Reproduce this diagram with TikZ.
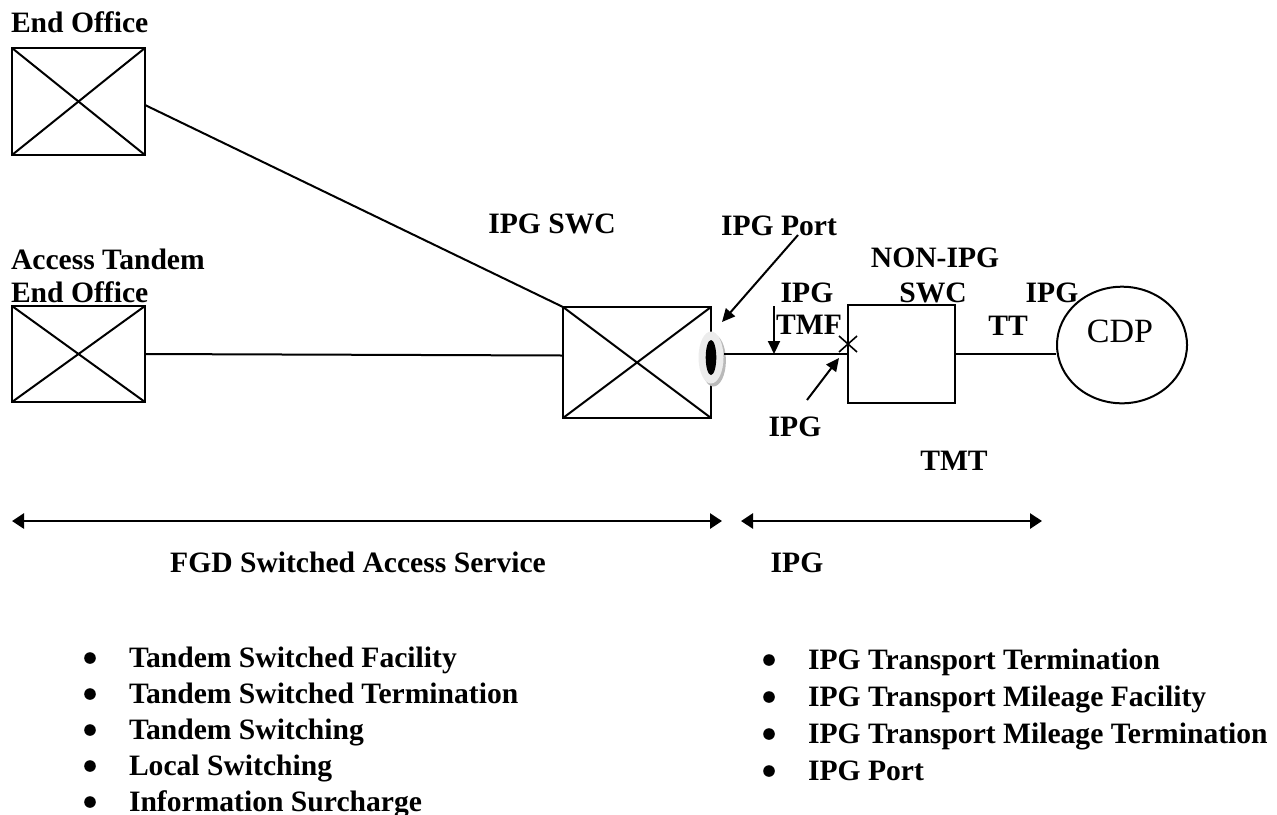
\documentclass[tikz,border=0pt]{standalone}
\usepackage{fontspec}
\setmainfont{Liberation Serif}
\usetikzlibrary{arrows.meta,shapes.geometric,shadows,calc}
\begin{document}
\begin{tikzpicture}[x=0.5pt,y=-0.5pt,
  lbl/.style={font=\bfseries\fontsize{14.8}{17}\selectfont, inner sep=0pt, outer sep=0pt},
  xbox/.style={draw, line width=1pt, inner sep=0pt, outer sep=0pt,
    path picture={\draw[line width=1pt] (path picture bounding box.north west) -- (path picture bounding box.south east)
      (path picture bounding box.south west) -- (path picture bounding box.north east);}},
  pbox/.style={draw, line width=1pt, inner sep=0pt, outer sep=0pt},
  conn/.style={line width=1pt},
  ptr/.style={line width=1pt, -{Triangle[width=6pt,length=6.5pt]}},
  span/.style={line width=1.4pt, {Triangle[width=7.5pt,length=6pt]}-{Triangle[width=7.5pt,length=6pt]}},
  bul/.style={circle, fill, inner sep=0pt, minimum size=5.8pt}
]
\useasboundingbox (0,0) rectangle (1277,814);

% switch boxes
\node[xbox, minimum width=66.5pt, minimum height=53.5pt] (eo1) at (78.5,101.5) {};
\node[xbox, minimum width=66.5pt, minimum height=48pt] (eo2) at (78.5,354) {};
\node[xbox, minimum width=74pt, minimum height=55.5pt] (swc) at (637,362.5) {};
\node[pbox, minimum width=53.5pt, minimum height=49pt] (nonipg) at (901.5,354) {};
\node[draw, ellipse, line width=1pt, inner sep=0pt, minimum width=65pt, minimum height=58.3pt] (cdp) at (1122,345) {};
\node[font=\fontsize{17}{20}\selectfont, anchor=base, inner sep=0pt] (cdpt) at (1120,342) {CDP};

% IPG port
\node[ellipse, fill=gray!15, inner sep=0pt, minimum width=12.5pt, minimum height=26pt,
  drop shadow={shadow xshift=1.2pt, shadow yshift=-1.5pt, fill=gray!55, opacity=1}] (port) at (711,357.5) {};
\node[ellipse, fill=black, inner sep=0pt, minimum width=5.3pt, minimum height=17.5pt] (portcore) at (711,357.5) {};

% labels
\node[lbl, anchor=base west] (t1) at (11,32) {End Office};
\node[lbl, anchor=base west] (t2) at (11,269) {Access Tandem};
\node[lbl, anchor=base west] (t3) at (11,302) {End Office};
\node[lbl, anchor=base] (t4) at (552,233) {IPG SWC};
\node[lbl, anchor=base west] (t5) at (721,235) {IPG Port};
\node[lbl, anchor=base] (t6) at (807,302) {IPG};
\node[lbl, anchor=base] (t7) at (809,334) {TMF};
\node[lbl, anchor=base] (t8) at (935,267) {NON-IPG};
\node[lbl, anchor=base] (t9) at (933,302) {SWC};
\node[lbl, anchor=base] (t10) at (1052,302) {IPG};
\node[lbl, anchor=base] (t11) at (1008,335) {TT};
\node[lbl, anchor=base] (t12) at (795,436) {IPG};
\node[lbl, anchor=base] (t13) at (954,470) {TMT};
\node[lbl, anchor=base] (t14) at (358,572) {FGD Switched Access Service};
\node[lbl, anchor=base] (t15) at (797,572) {IPG};

% connectors
\draw[conn] ($(eo1.east)+(0,3.5)$) -- (swc.north west);
\draw[conn] (eo2.east) -- ($(swc.west)+(0,-7)$);
\draw[conn] (nonipg.west) -- (nonipg.west -| port.east);
\draw[conn] (nonipg.east) -- (nonipg.east -| cdp.west);

% X mark
\coordinate (xm) at (848,344);
\draw[line width=0.8pt] ($(xm)+(-9,-8)$) -- ($(xm)+(9,8)$) ($(xm)+(-9,8)$) -- ($(xm)+(9,-8)$);

% pointer arrows
\coordinate (pa) at (798,235);
\coordinate (pb) at (722,322);
\draw[ptr] (pa) -- (pb);
\coordinate (ta) at (774,306);
\coordinate (tb) at (774,354);
\draw[ptr] (ta) -- (tb);
\coordinate (ia) at (807,400);
\coordinate (ib) at (839,358);
\draw[ptr] (ia) -- (ib);

% spans
\coordinate (s1a) at (12,521);
\coordinate (s1b) at (722,521);
\coordinate (s2a) at (741,521);
\coordinate (s2b) at (1042,521);
\draw[span] (s1a) -- (s1b);
\draw[span] (s2a) -- (s2b);

% bullet lists
\foreach \t [count=\i from 0] in {Tandem Switched Facility, Tandem Switched Termination, Tandem Switching, Local Switching, Information Surcharge}{
  \node[lbl, anchor=base west] (l\i) at (129,667+36*\i) {\t};
  \node[bul] (lb\i) at (90,667+36*\i-9) {};
}
\foreach \t [count=\i from 0] in {IPG Transport Termination, IPG Transport Mileage Facility, IPG Transport Mileage Termination, IPG Port}{
  \node[lbl, anchor=base west] (r\i) at (808,669+37*\i) {\t};
  \node[bul] (rb\i) at (769,669+37*\i-9) {};
}
\end{tikzpicture}
\end{document}
